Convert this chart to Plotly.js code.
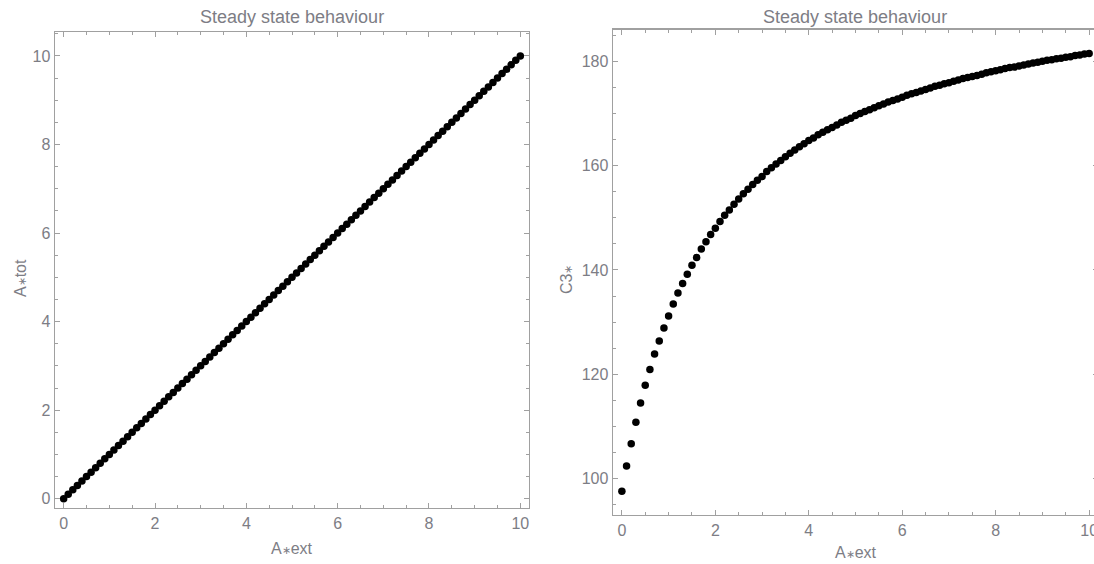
<!DOCTYPE html>
<html>
<head>
<meta charset="utf-8">
<script src="https://cdn.plot.ly/plotly-3.0.1.min.js"></script>
<style>
html,body{margin:0;padding:0;overflow:hidden;background:#fff;}
#chart{width:1100px;height:564px;}
</style>
</head>
<body>
<div id="chart"></div>
<script>
// A*ext values (shared by both panels)
const aExt = [0,0.1,0.2,0.3,0.4,0.5,0.6,0.7,0.8,0.9,1,1.1,1.2,1.3,1.4,1.5,1.6,1.7,1.8,1.9,2,2.1,2.2,2.3,2.4,2.5,2.6,2.7,2.8,2.9,3,3.1,3.2,3.3,3.4,3.5,3.6,3.7,3.8,3.9,4,4.1,4.2,4.3,4.4,4.5,4.6,4.7,4.8,4.9,5,5.1,5.2,5.3,5.4,5.5,5.6,5.7,5.8,5.9,6,6.1,6.2,6.3,6.4,6.5,6.6,6.7,6.8,6.9,7,7.1,7.2,7.3,7.4,7.5,7.6,7.7,7.8,7.9,8,8.1,8.2,8.3,8.4,8.5,8.6,8.7,8.8,8.9,9,9.1,9.2,9.3,9.4,9.5,9.6,9.7,9.8,9.9,10];
// A*tot (left panel)
const aTot = [0,0.1,0.2,0.3,0.4,0.5,0.6,0.7,0.8,0.9,1,1.1,1.2,1.3,1.4,1.5,1.6,1.7,1.8,1.9,2,2.1,2.2,2.3,2.4,2.5,2.6,2.7,2.8,2.9,3,3.1,3.2,3.3,3.4,3.5,3.6,3.7,3.8,3.9,4,4.1,4.2,4.3,4.4,4.5,4.6,4.7,4.8,4.9,5,5.1,5.2,5.3,5.4,5.5,5.6,5.7,5.8,5.9,6,6.1,6.2,6.3,6.4,6.5,6.6,6.7,6.8,6.9,7,7.1,7.2,7.3,7.4,7.5,7.6,7.7,7.8,7.9,8,8.1,8.2,8.3,8.4,8.5,8.6,8.7,8.8,8.9,9,9.1,9.2,9.3,9.4,9.5,9.6,9.7,9.8,9.9,10];
// C3* (right panel)
const c3 = [97.6,102.4,106.7,110.8,114.5,117.9,120.9,123.9,126.4,128.9,131.2,133.5,135.6,137.4,139.2,140.9,142.4,144.0,145.4,146.8,148.0,149.3,150.5,151.5,152.6,153.6,154.6,155.5,156.4,157.2,157.9,158.9,159.6,160.3,161.0,161.7,162.4,163.0,163.6,164.2,164.8,165.3,165.9,166.4,166.9,167.3,167.8,168.3,168.7,169.1,169.6,170.0,170.4,170.7,171.1,171.5,171.8,172.2,172.5,172.8,173.1,173.5,173.8,174.0,174.3,174.6,174.9,175.2,175.4,175.7,175.9,176.2,176.4,176.7,176.9,177.1,177.3,177.5,177.8,178.0,178.2,178.4,178.6,178.8,178.9,179.1,179.3,179.5,179.7,179.8,180.0,180.2,180.3,180.5,180.6,180.8,180.9,181.1,181.2,181.4,181.5];

const xTicks = [0,2,4,6,8,10];
const yTicksLeft = [0,2,4,6,8,10];
const yTicksRight = [100,120,140,160,180];

const titleText = 'Steady state behaviour';
const xTitle = 'A<span style="font-size:11px">∗</span>ext';
const yTitleLeft = 'A<span style="font-size:11px">∗</span>tot';
const yTitleRight = 'C3<span style="font-size:11px">∗</span>';

const FONT = 'Liberation Sans, Arial, sans-serif';
const LBL = '#7d7d85';
const FRAME = '#a0a0a0';
const W = 1100, H = 564;

function ax(domain, range, tickvals, minorDt, anchor) {
  return {
    domain: domain, range: range, anchor: anchor,
    tickvals: tickvals, ticktext: tickvals.map(String),
    ticks: 'inside', ticklen: 5, tickwidth: 1, tickcolor: FRAME,
    minor: {dtick: minorDt, ticks: 'inside', ticklen: 3, tickwidth: 1, tickcolor: FRAME, showgrid: false},
    showline: true, linecolor: FRAME, linewidth: 1.4, mirror: 'allticks',
    showgrid: false, zeroline: false,
    tickfont: {family: FONT, size: 16, color: LBL},
    automargin: false, fixedrange: true
  };
}

const traces = [
  {x: aExt, y: aTot, xaxis: 'x', yaxis: 'y', type: 'scatter', mode: 'markers',
   marker: {color: '#000', size: 7.5}, hoverinfo: 'skip'},
  {x: aExt, y: c3, xaxis: 'x2', yaxis: 'y2', type: 'scatter', mode: 'markers',
   marker: {color: '#000', size: 7.5}, hoverinfo: 'skip'}
];

const px = v => v / W;
const py = v => 1 - v / H;

const layout = {
  width: W, height: H,
  margin: {l: 0, r: 0, t: 0, b: 0},
  paper_bgcolor: '#fff', plot_bgcolor: '#fff',
  showlegend: false,
  xaxis: ax([px(55), px(529)], [-0.19, 10.19], xTicks, 0.5, 'y'),
  yaxis: ax([py(508), py(32)], [-0.21, 10.54], yTicksLeft, 0.5, 'x'),
  xaxis2: ax([px(613), px(1098)], [-0.19, 10.19], xTicks, 0.5, 'y2'),
  yaxis2: ax([py(515), py(29.5)], [93.03, 186.1], yTicksRight, 5, 'x2'),
  annotations: [
    {text: titleText, x: px(292), y: py(17), xref: 'paper', yref: 'paper', showarrow: false,
     xanchor: 'center', yanchor: 'middle', font: {family: FONT, size: 18, color: LBL}},
    {text: titleText, x: px(855), y: py(17), xref: 'paper', yref: 'paper', showarrow: false,
     xanchor: 'center', yanchor: 'middle', font: {family: FONT, size: 18, color: LBL}},
    {text: xTitle, x: px(292), y: py(548), xref: 'paper', yref: 'paper', showarrow: false,
     xanchor: 'center', yanchor: 'middle', font: {family: FONT, size: 16, color: LBL}},
    {text: xTitle, x: px(856), y: py(552), xref: 'paper', yref: 'paper', showarrow: false,
     xanchor: 'center', yanchor: 'middle', font: {family: FONT, size: 16, color: LBL}},
    {text: yTitleLeft, x: px(20), y: py(278), xref: 'paper', yref: 'paper', showarrow: false,
     textangle: -90, xanchor: 'center', yanchor: 'middle', font: {family: FONT, size: 16, color: LBL}},
    {text: yTitleRight, x: px(566), y: py(280), xref: 'paper', yref: 'paper', showarrow: false,
     textangle: -90, xanchor: 'center', yanchor: 'middle', font: {family: FONT, size: 16, color: LBL}}
  ]
};

Plotly.newPlot('chart', traces, layout, {displayModeBar: false, staticPlot: true});
</script>
</body>
</html>
